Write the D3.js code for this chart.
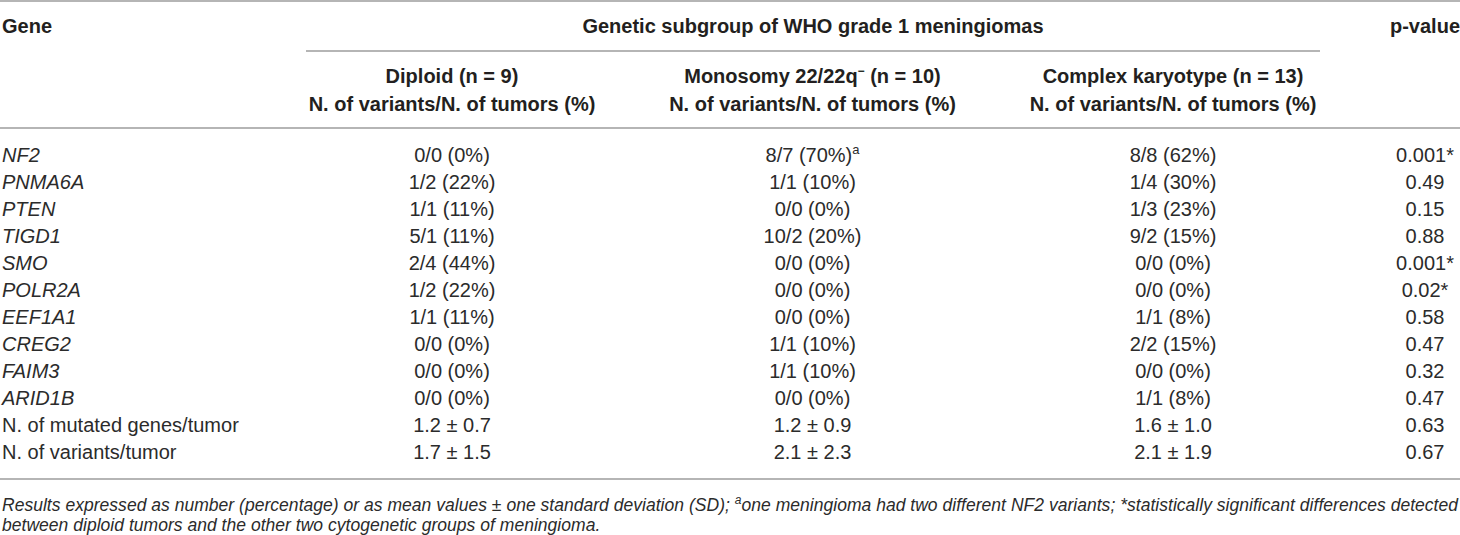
<!DOCTYPE html>
<html>
<head>
<meta charset="utf-8">
<script src="https://cdn.jsdelivr.net/npm/d3@7/dist/d3.min.js"></script>
<style>
  html, body { margin: 0; padding: 0; background: #fff; }
  svg { display: block; }
  text { font-family: "Liberation Sans", Arial, Helvetica, sans-serif; }
</style>
</head>
<body>
<svg id="chart" width="1460" height="535"></svg>
<script>
// ---- data ----
const rowLabels = ["NF2", "PNMA6A", "PTEN", "TIGD1", "SMO", "POLR2A", "EEF1A1", "CREG2", "FAIM3", "ARID1B",
                   "N. of mutated genes/tumor", "N. of variants/tumor"];
const italicRows = ["NF2", "PNMA6A", "PTEN", "TIGD1", "SMO", "POLR2A", "EEF1A1", "CREG2", "FAIM3", "ARID1B"];
const groupKeys = ["diploid", "monosomy", "complex"];
const groupTitles = ["Diploid (n = 9)", "Monosomy 22/22q^− (n = 10)", "Complex karyotype (n = 13)"];
const groupSubtitle = "N. of variants/N. of tumors (%)";
const diploid = ["0/0 (0%)", "1/2 (22%)", "1/1 (11%)", "5/1 (11%)", "2/4 (44%)", "1/2 (22%)", "1/1 (11%)",
                 "0/0 (0%)", "0/0 (0%)", "0/0 (0%)", "1.2 ± 0.7", "1.7 ± 1.5"];
const monosomy = ["8/7 (70%)^a", "1/1 (10%)", "0/0 (0%)", "10/2 (20%)", "0/0 (0%)", "0/0 (0%)", "0/0 (0%)",
                  "1/1 (10%)", "1/1 (10%)", "0/0 (0%)", "1.2 ± 0.9", "2.1 ± 2.3"];
const complex = ["8/8 (62%)", "1/4 (30%)", "1/3 (23%)", "9/2 (15%)", "0/0 (0%)", "0/0 (0%)", "1/1 (8%)",
                 "2/2 (15%)", "0/0 (0%)", "1/1 (8%)", "1.6 ± 1.0", "2.1 ± 1.9"];
const pValues = ["0.001*", "0.49", "0.15", "0.88", "0.001*", "0.02*", "0.58", "0.47", "0.32", "0.47", "0.63", "0.67"];
const headerGene = "Gene";
const headerGroup = "Genetic subgroup of WHO grade 1 meningiomas";
const headerP = "p-value";
const footnote1 = ["Results expressed as number (percentage) or as mean values ± one standard deviation (SD); ", "a",
                   "one meningioma had two different NF2 variants; *statistically significant differences detected"];
const footnote2 = "between diploid tumors and the other two cytogenetic groups of meningioma.";

// ---- layout ----
const W = 1460;
const svg = d3.select("#chart");
const FS = 20;
const textColor = "#231f20";
const lightColor = "#2b2b2b";
const lineColor = "#9d9d9d";

const x = d3.scalePoint().domain(groupKeys).range([452, 1173]);
const xP = 1425;
const y = d3.scalePoint().domain(rowLabels).range([155, 452]);
const capOff = 7; // center -> baseline

const columns = { diploid, monosomy, complex };

// text with optional ^superscript parts
function richText(sel, str, supSize) {
  const parts = str.split("^");
  sel.append("tspan").text(parts[0]);
  if (parts.length > 1) {
    const m = parts[1].match(/^(\S+)(.*)$/);
    sel.append("tspan").attr("font-size", supSize).attr("dy", -8).text(m[1]);
    if (m[2]) sel.append("tspan").attr("dy", 8).text(m[2]);
  }
}

// lines
svg.append("line").attr("x1", 0).attr("x2", W).attr("y1", 1).attr("y2", 1)
  .attr("stroke", lineColor).attr("stroke-width", 1.6);
svg.append("line").attr("x1", 306).attr("x2", 1320).attr("y1", 51).attr("y2", 51)
  .attr("stroke", lineColor).attr("stroke-width", 1.4);
svg.append("line").attr("x1", 0).attr("x2", W).attr("y1", 128).attr("y2", 128)
  .attr("stroke", lineColor).attr("stroke-width", 1.4);
svg.append("line").attr("x1", 0).attr("x2", W).attr("y1", 479).attr("y2", 479)
  .attr("stroke", lineColor).attr("stroke-width", 1.4);

// header
const hdr = svg.append("g").attr("font-weight", "bold").attr("font-size", FS).attr("fill", textColor);
hdr.append("text").attr("x", 2).attr("y", 26 + capOff).text(headerGene);
hdr.append("text").attr("x", (306 + 1320) / 2).attr("y", 26 + capOff).attr("text-anchor", "middle").text(headerGroup);
hdr.append("text").attr("x", xP).attr("y", 26 + capOff).attr("text-anchor", "middle").text(headerP);
groupKeys.forEach((k, i) => {
  hdr.append("text").attr("x", x(k)).attr("y", 76 + capOff).attr("text-anchor", "middle")
    .call(s => richText(s, groupTitles[i], 12));
  hdr.append("text").attr("x", x(k)).attr("y", 104 + capOff).attr("text-anchor", "middle").text(groupSubtitle);
});

// body
const body = svg.append("g").attr("font-size", FS).attr("fill", lightColor);
body.selectAll("text.lab").data(rowLabels).join("text").attr("class", "lab")
  .attr("x", 2).attr("y", d => y(d) + capOff)
  .attr("font-style", d => italicRows.includes(d) ? "italic" : "normal")
  .text(d => d);
groupKeys.forEach(k => {
  body.selectAll("text.c-" + k).data(columns[k]).join("text").attr("class", "c-" + k)
    .attr("x", x(k)).attr("y", (d, i) => y(rowLabels[i]) + capOff).attr("text-anchor", "middle")
    .each(function(d) { richText(d3.select(this), d, 13); });
});
body.selectAll("text.p").data(pValues).join("text").attr("class", "p")
  .attr("x", xP).attr("y", (d, i) => y(rowLabels[i]) + capOff).attr("text-anchor", "middle")
  .text(d => d);

// footnotes
const FFS = 17.5;
const fn = svg.append("g").attr("font-style", "italic").attr("fill", lightColor).attr("font-size", FFS);
const f1 = fn.append("text").attr("x", 2).attr("y", 511);
f1.append("tspan").text(footnote1[0]);
f1.append("tspan").attr("font-size", 12).attr("dy", -7).text(footnote1[1]);
f1.append("tspan").attr("dy", 7).text(footnote1[2]);
const f2 = fn.append("text").attr("x", 2).attr("y", 531).text(footnote2);
// condense first footnote line to table width via letter-spacing
const len = f1.node().getComputedTextLength();
const nChars = footnote1.join("").length;
const ls = (1456 - len) / nChars;
fn.attr("letter-spacing", ls);
</script>
</body>
</html>
